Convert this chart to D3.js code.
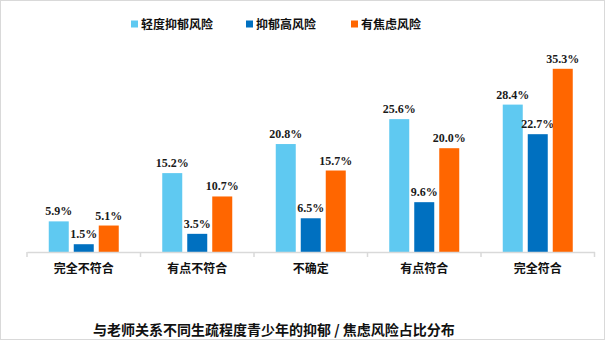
<!DOCTYPE html>
<html><head><meta charset="utf-8">
<script src="https://cdn.jsdelivr.net/npm/d3@7"></script>
<style>body{margin:0;background:#fff}svg{display:block}</style>
</head><body>
<svg id="c" width="605" height="340"></svg>
<script>
const categories = ["完全不符合","有点不符合","不确定","有点符合","完全符合"];
const seriesNames = ["轻度抑郁风险","抑郁高风险","有焦虑风险"];
const mild = [5.9,15.2,20.8,25.6,28.4];
const high = [1.5,3.5,6.5,9.6,22.7];
const anxiety = [5.1,10.7,15.7,20.0,35.3];
const colors = ["#5FC9F1","#0070C0","#FF6600"];
const title = "与老师关系不同生疏程度青少年的抑郁 / 焦虑风险占比分布";

const series = [mild, high, anxiety];
const svg = d3.select("#c");
svg.append("rect").attr("x",0.5).attr("y",0.5).attr("width",604).attr("height",339)
  .attr("fill","#fff").attr("stroke","#d9d9d9");

const x = d3.scaleBand().domain(categories).range([27,594.5]).paddingInner(0).paddingOuter(0);
const y = d3.scaleLinear().domain([0,40]).range([252,44.4]);
const sub = d3.scaleBand().domain(d3.range(3)).range([0,70]).paddingInner(0.2);

const g = svg.append("g");
categories.forEach((c,i)=>{
  const cx = x(c)+x.bandwidth()/2;
  series.forEach((s,j)=>{
    const bx = cx-35+sub(j);
    g.append("rect").attr("x",bx).attr("y",y(s[i])).attr("width",sub.bandwidth())
      .attr("height",y(0)-y(s[i])).attr("fill",colors[j]);
    g.append("text").attr("x",bx+sub.bandwidth()/2).attr("y",y(s[i])-6)
      .attr("text-anchor","middle").attr("font-family","Liberation Serif, serif")
      .attr("font-weight","bold").attr("font-size",12).attr("fill","#1a1a1a")
      .text(s[i].toFixed(1)+"%");
  });
});

const axis = d3.axisBottom(x).tickSize(0).tickPadding(12);
const ax = svg.append("g").attr("transform","translate(0,252)").call(axis);
ax.select(".domain").attr("stroke","#d9d9d9").attr("stroke-width",1.5);
ax.selectAll("text").attr("font-family","Noto Sans CJK SC, sans-serif")
  .attr("font-weight","bold").attr("font-size",12).attr("fill","#111");
const bounds = categories.map(c=>x(c)).concat([x.range()[1]]);
ax.selectAll(".sep").data(bounds).enter().append("line").attr("class","sep")
  .attr("x1",d=>d).attr("x2",d=>d).attr("y1",0).attr("y2",5)
  .attr("stroke","#d9d9d9").attr("stroke-width",1.5);

const legX = [131,246,351];
seriesNames.forEach((n,j)=>{
  svg.append("rect").attr("x",legX[j]).attr("y",20.5).attr("width",7).attr("height",7).attr("fill",colors[j]);
  svg.append("text").attr("x",legX[j]+10).attr("y",28.5)
    .attr("font-family","Noto Sans CJK SC, sans-serif").attr("font-weight","bold")
    .attr("font-size",12).attr("fill","#111").text(n);
});

svg.append("text").attr("x",93).attr("y",335)
  .attr("font-family","Noto Sans CJK SC, sans-serif").attr("font-weight","bold")
  .attr("font-size",14).attr("fill","#111").text(title);
</script>
</body></html>
